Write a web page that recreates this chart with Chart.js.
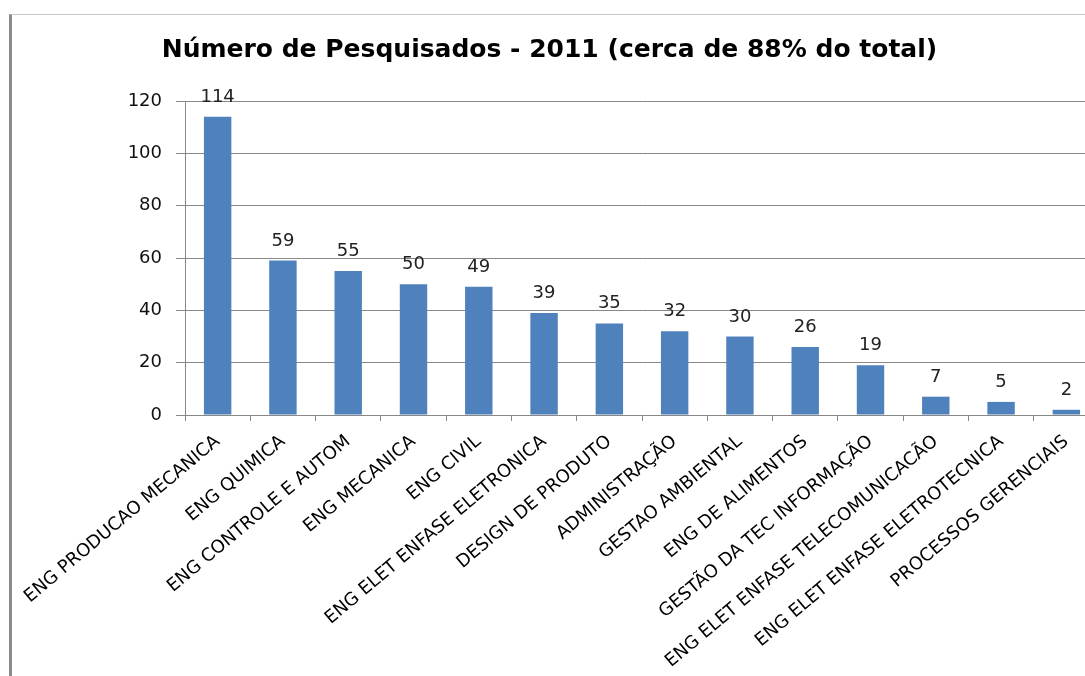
<!DOCTYPE html>
<html>
<head>
<meta charset="utf-8">
<script src="https://cdn.jsdelivr.net/npm/chart.js@4"></script>
<style>
html, body { margin: 0; padding: 0; overflow: hidden; background: #fff; }
#frame { position: absolute; left: 9px; top: 14px; width: 1100px; height: 680px;
  border-left: 3px solid #8a8a8a; border-top: 1px solid #c8c8c8; }
#wrap { position: absolute; left: 0; top: 0; width: 1100px; height: 676px; }
</style>
</head>
<body>
<div id="frame"></div>
<div id="wrap"><canvas id="myChart"></canvas></div>
<script>
var cursos = [
    'ENG PRODUCAO MECANICA', 'ENG QUIMICA', 'ENG CONTROLE E AUTOM', 'ENG MECANICA',
    'ENG CIVIL', 'ENG ELET ENFASE ELETRONICA', 'DESIGN DE PRODUTO', 'ADMINISTRAÇÃO',
    'GESTAO AMBIENTAL', 'ENG DE ALIMENTOS', 'GESTÃO DA TEC INFORMAÇÃO',
    'ENG ELET ENFASE TELECOMUNICACÃO', 'ENG ELET ENFASE ELETROTECNICA', 'PROCESSOS GERENCIAIS'
];
var pesquisados = [114, 59, 55, 50, 49, 39, 35, 32, 30, 26, 19, 7, 5, 2];
var ticksY = [0, 20, 40, 60, 80, 100, 120];

// rotulos em cima das barras
var rotulos = {
    id: 'rotulos',
    afterDatasetsDraw: function(chart){
        var ctx = chart.ctx;
        var meta = chart.getDatasetMeta(0);
        ctx.save();
        ctx.font = '18px "DejaVu Sans"';
        ctx.fillStyle = '#222';
        ctx.textAlign = 'center';
        ctx.textBaseline = 'alphabetic';
        meta.data.forEach(function(bar, i){
            ctx.fillText(String(pesquisados[i]), bar.x, bar.y - 15);
        });
        ctx.restore();
    }
};

const ctx = document.getElementById('myChart').getContext('2d');
const myChart = new Chart(ctx, {
    type: 'bar',
    data: {
        labels: cursos,
        datasets: [{
            data: pesquisados,
            backgroundColor: '#4F81BD',
            barPercentage: 0.42,
            categoryPercentage: 1
        }]
    },
    plugins: [rotulos],
    options: {
        responsive: true,
        maintainAspectRatio: false,
        animation: false,
        layout: { padding: { top: 18, right: 1, left: 0, bottom: 0 } },
        plugins: {
            legend: { display: false },
            tooltip: { enabled: false },
            title: {
                display: true,
                text: 'Número de Pesquisados - 2011 (cerca de 88% do total)',
                color: '#000',
                font: { family: 'DejaVu Sans', size: 25, weight: 'bold' },
                padding: { top: 17, bottom: 36 }
            }
        },
        scales: {
            y: {
                min: 0,
                max: 120,
                afterBuildTicks: function(scale){
                    scale.ticks = ticksY.map(function(v){ return { value: v }; });
                },
                afterFit: function(scale){ scale.width = 185; },
                grid: { color: '#888', tickLength: 9, tickColor: '#888' },
                border: { color: '#888' },
                ticks: {
                    color: '#111',
                    padding: 14,
                    font: { family: 'DejaVu Sans', size: 18 }
                }
            },
            x: {
                afterFit: function(scale){ scale.height = 261; },
                grid: { drawOnChartArea: false, tickLength: 6, tickColor: '#888' },
                border: { color: '#888' },
                ticks: {
                    color: '#000',
                    maxRotation: 40,
                    minRotation: 40,
                    autoSkip: false,
                    padding: 10,
                    font: { family: 'DejaVu Sans', size: 18 }
                }
            }
        }
    }
});
</script>
</body>
</html>
